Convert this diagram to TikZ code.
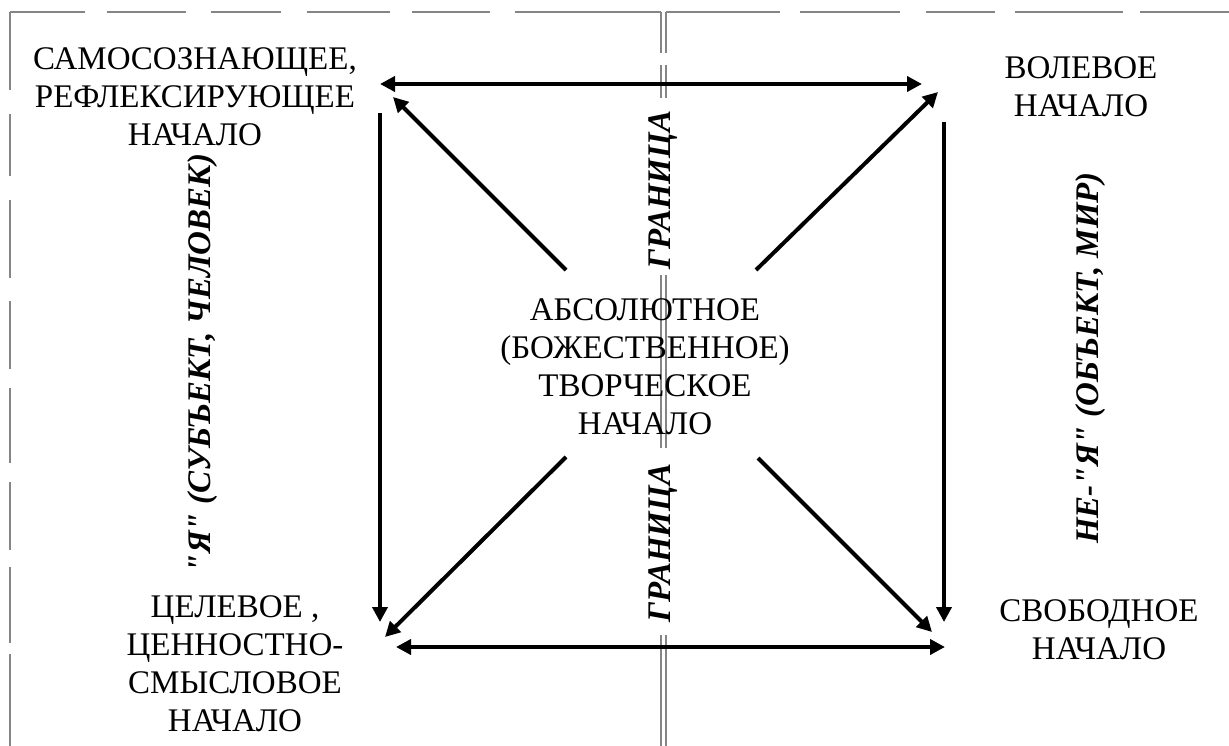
\documentclass[tikz,border=0pt]{standalone}
\usepackage{fontspec}
\setmainfont{Liberation Serif}
\newfontfamily\plainserif{Liberation Serif}
\usetikzlibrary{arrows.meta}
\begin{document}
\begin{tikzpicture}[x=1pt,y=-1pt,
  lbl/.style={font=\fontsize{33}{38}\selectfont, align=center, inner sep=0pt},
  vlbl/.style={font=\plainserif\fontsize{33}{38}\selectfont\bfseries\itshape, rotate=90, inner sep=0pt},
  tip/.tip={Triangle[length=15pt,width=15pt]},
  arr/.style={line width=4pt, -tip},
  darr/.style={line width=4pt, tip-tip},
  frameline/.style={draw=black!48, line width=2.2pt},
]
\useasboundingbox (0,0) rectangle (1229,746);

% ---- left dashed frame ----
\foreach \a/\b in {10/85,107/186,211/281,307/390,412/490,515/661}
  \draw[frameline] (\a,12) -- (\b,12);
\foreach \a/\b in {12/90,114/176,200/278,301/369,388/463,482/550,567/643,654/746}
  \draw[frameline] (10,\a) -- (10,\b);
% ---- right dashed frame ----
\foreach \a/\b in {666/780,800/900,926/995,1015/1123,1140/1229}
  \draw[frameline] (\a,12) -- (\b,12);
% ---- double border line in the middle ----
\foreach \a/\b in {12/53,65/98,275/448,635/746}{
  \draw[frameline, line width=1.8pt] (661,\a) -- (661,\b);
  \draw[frameline, line width=1.8pt] (666,\a) -- (666,\b);
}

% ---- texts ----
\node[lbl] (tl) at (195,97) {САМОСОЗНАЮЩЕЕ,\\РЕФЛЕКСИРУЮЩЕЕ\\НАЧАЛО};
\node[lbl] (tr) at (1081,87) {ВОЛЕВОЕ\\НАЧАЛО};
\node[lbl] (c) at (645,367) {АБСОЛЮТНОЕ\\(БОЖЕСТВЕННОЕ)\\ТВОРЧЕСКОЕ\\НАЧАЛО};
\node[lbl] (bl) at (235,664) {ЦЕЛЕВОЕ ,\\ЦЕННОСТНО-\\СМЫСЛОВОЕ\\НАЧАЛО};
\node[lbl] (br) at (1099,630) {СВОБОДНОЕ\\НАЧАЛО};

\node[vlbl] (ya) at (203,363) {"Я" (СУБЪЕКТ, ЧЕЛОВЕК)};
\node[vlbl] (neya) at (1091,358) {НЕ-"Я" (ОБЪЕКТ, МИР)};
\node[vlbl] (g1) at (663,190) {ГРАНИЦА};
\node[vlbl] (g2) at (663,543) {ГРАНИЦА};

% ---- arrow end points ----
\coordinate (topL) at (380,84);
\coordinate (topR) at (922,84);
\coordinate (botL) at (396,647);
\coordinate (botR) at (945,647);
\coordinate (lvS) at (380,113);
\coordinate (lvE) at (380,622);
\coordinate (rvS) at (944,122);
\coordinate (rvE) at (944,622);
\coordinate (nwS) at (566,270);
\coordinate (nwE) at (393,97);
\coordinate (neS) at (756,270);
\coordinate (neE) at (938,92);
\coordinate (swS) at (566,457);
\coordinate (swE) at (385,637);
\coordinate (seS) at (758,458);
\coordinate (seE) at (932,632);

% ---- arrows ----
\draw[darr] (topL) -- (topR);
\draw[darr] (botL) -- (botR);
\draw[arr] (lvS) -- (lvE);
\draw[arr] (rvS) -- (rvE);
\draw[arr] (nwS) -- (nwE);
\draw[arr] (neS) -- (neE);
\draw[arr] (swS) -- (swE);
\draw[arr] (seS) -- (seE);
\end{tikzpicture}
\end{document}
